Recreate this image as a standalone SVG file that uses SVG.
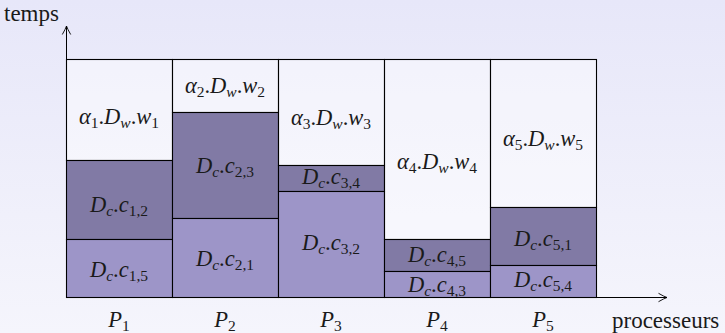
<svg xmlns="http://www.w3.org/2000/svg" width="725" height="333" viewBox="0 0 725 333">
<defs>
<linearGradient id="bg" x1="0" y1="0" x2="0" y2="1">
<stop offset="0" stop-color="#e7e7f9"/>
<stop offset="1" stop-color="#f5f5fc"/>
</linearGradient>
<marker id="arr" viewBox="-10 -6 11 12" markerWidth="11" markerHeight="12" refX="0" refY="0" orient="auto" markerUnits="userSpaceOnUse">
<path d="M -8.5 -4.2 Q -3 -1 0 0 Q -3 1 -8.5 4.2" fill="none" stroke="#000" stroke-width="0.9"/>
</marker>
</defs>
<style>
.w{fill:#ffffff;fill-opacity:0.45;stroke:#000;stroke-width:1.1}
.d{fill:#817aa5;stroke:#000;stroke-width:1.1}
.l{fill:#9d95c8;stroke:#000;stroke-width:1.1}
.m{font-family:'Liberation Serif','DejaVu Serif',serif;font-style:italic;font-size:22.5px;fill:#1a1a1a;text-anchor:middle}
.s{font-size:15.5px;font-style:normal}
.si{font-size:15.5px;font-style:italic}
.u{font-style:normal}
.t{font-family:'Liberation Serif','DejaVu Serif',serif;font-size:23px;fill:#1a1a1a}
.ax{stroke:#000;stroke-width:1;fill:none}
</style>
<rect x="0" y="0" width="725" height="333" fill="url(#bg)"/>
<g id="P1">
<rect class="w" x="66.5" y="59.5" width="106" height="101"/>
<rect class="d" x="66.5" y="160.5" width="106" height="79"/>
<rect class="l" x="66.5" y="239.5" width="106" height="58"/>
<text class="m" x="119" y="124">α<tspan class="s" dy="4">1</tspan><tspan class="u" dy="-4">.</tspan>D<tspan class="si" dy="4">w</tspan><tspan class="u" dy="-4">.</tspan>w<tspan class="s" dy="4">1</tspan></text>
<text class="m" x="119" y="212">D<tspan class="si" dy="4">c</tspan><tspan class="u" dy="-4">.</tspan>c<tspan class="s" dy="4">1,2</tspan></text>
<text class="m" x="119" y="277">D<tspan class="si" dy="4">c</tspan><tspan class="u" dy="-4">.</tspan>c<tspan class="s" dy="4">1,5</tspan></text>
</g>
<g id="P2">
<rect class="w" x="172.5" y="59.5" width="106" height="53"/>
<rect class="d" x="172.5" y="112.5" width="106" height="106"/>
<rect class="l" x="172.5" y="218.5" width="106" height="79"/>
<text class="m" x="225" y="93">α<tspan class="s" dy="4">2</tspan><tspan class="u" dy="-4">.</tspan>D<tspan class="si" dy="4">w</tspan><tspan class="u" dy="-4">.</tspan>w<tspan class="s" dy="4">2</tspan></text>
<text class="m" x="225" y="173">D<tspan class="si" dy="4">c</tspan><tspan class="u" dy="-4">.</tspan>c<tspan class="s" dy="4">2,3</tspan></text>
<text class="m" x="225" y="266">D<tspan class="si" dy="4">c</tspan><tspan class="u" dy="-4">.</tspan>c<tspan class="s" dy="4">2,1</tspan></text>
</g>
<g id="P3">
<rect class="w" x="278.5" y="59.5" width="106" height="106"/>
<rect class="d" x="278.5" y="165.5" width="106" height="26"/>
<rect class="l" x="278.5" y="191.5" width="106" height="106"/>
<text class="m" x="331" y="125">α<tspan class="s" dy="4">3</tspan><tspan class="u" dy="-4">.</tspan>D<tspan class="si" dy="4">w</tspan><tspan class="u" dy="-4">.</tspan>w<tspan class="s" dy="4">3</tspan></text>
<text class="m" x="331" y="184">D<tspan class="si" dy="4">c</tspan><tspan class="u" dy="-4">.</tspan>c<tspan class="s" dy="4">3,4</tspan></text>
<text class="m" x="331" y="250">D<tspan class="si" dy="4">c</tspan><tspan class="u" dy="-4">.</tspan>c<tspan class="s" dy="4">3,2</tspan></text>
</g>
<g id="P4">
<rect class="w" x="384.5" y="59.5" width="106" height="180"/>
<rect class="d" x="384.5" y="239.5" width="106" height="32"/>
<rect class="l" x="384.5" y="271.5" width="106" height="26"/>
<text class="m" x="437" y="169">α<tspan class="s" dy="4">4</tspan><tspan class="u" dy="-4">.</tspan>D<tspan class="si" dy="4">w</tspan><tspan class="u" dy="-4">.</tspan>w<tspan class="s" dy="4">4</tspan></text>
<text class="m" x="437" y="262">D<tspan class="si" dy="4">c</tspan><tspan class="u" dy="-4">.</tspan>c<tspan class="s" dy="4">4,5</tspan></text>
<text class="m" x="437" y="292">D<tspan class="si" dy="4">c</tspan><tspan class="u" dy="-4">.</tspan>c<tspan class="s" dy="4">4,3</tspan></text>
</g>
<g id="P5">
<rect class="w" x="490.5" y="59.5" width="106" height="148"/>
<rect class="d" x="490.5" y="207.5" width="106" height="58"/>
<rect class="l" x="490.5" y="265.5" width="106" height="32"/>
<text class="m" x="543" y="146">α<tspan class="s" dy="4">5</tspan><tspan class="u" dy="-4">.</tspan>D<tspan class="si" dy="4">w</tspan><tspan class="u" dy="-4">.</tspan>w<tspan class="s" dy="4">5</tspan></text>
<text class="m" x="543" y="246">D<tspan class="si" dy="4">c</tspan><tspan class="u" dy="-4">.</tspan>c<tspan class="s" dy="4">5,1</tspan></text>
<text class="m" x="543" y="287">D<tspan class="si" dy="4">c</tspan><tspan class="u" dy="-4">.</tspan>c<tspan class="s" dy="4">5,4</tspan></text>
</g>
<g id="axes">
<line class="ax" x1="66.5" y1="298" x2="66.5" y2="26" marker-end="url(#arr)"/>
<line class="ax" x1="66" y1="297.5" x2="667" y2="297.5" marker-end="url(#arr)"/>
</g>
<g id="labels">
<text class="t" x="4" y="21">temps</text>
<text class="t" x="612" y="328">processeurs</text>
<text class="m" x="119" y="327">P<tspan class="s" dy="4">1</tspan></text>
<text class="m" x="225" y="327">P<tspan class="s" dy="4">2</tspan></text>
<text class="m" x="331" y="327">P<tspan class="s" dy="4">3</tspan></text>
<text class="m" x="437" y="327">P<tspan class="s" dy="4">4</tspan></text>
<text class="m" x="543" y="327">P<tspan class="s" dy="4">5</tspan></text>
</g>
</svg>
